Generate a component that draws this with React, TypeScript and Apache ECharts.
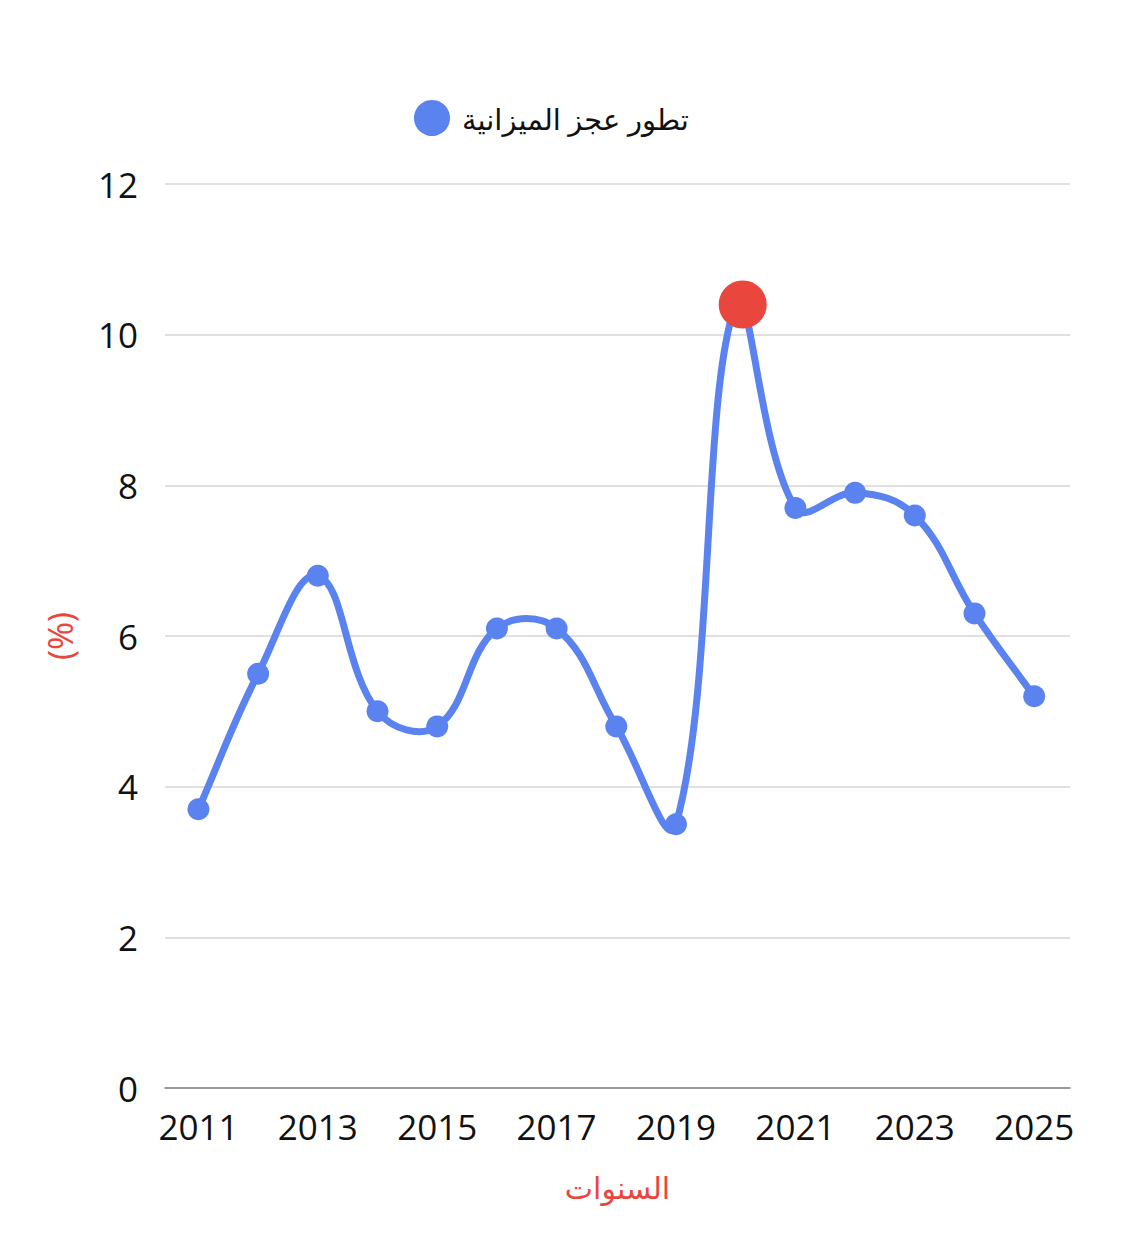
import React, { useEffect, useRef } from "react";
import * as echarts from "echarts";

const years = [2011, 2012, 2013, 2014, 2015, 2016, 2017, 2018, 2019, 2020, 2021, 2022, 2023, 2024, 2025];
const deficit = [3.7, 5.5, 6.8, 5.0, 4.8, 6.1, 6.1, 4.8, 3.5, 10.4, 7.7, 7.9, 7.6, 6.3, 5.2];
const yearLabels = [2011, 2013, 2015, 2017, 2019, 2021, 2023, 2025];
const seriesName = "تطور عجز الميزانية";
const xName = "السنوات";
const yName = "(%)";

const BLUE = "#5a83f0";
const RED = "#e9463d";
const FONT = "'Open Sans', 'Noto Sans', 'DejaVu Sans', sans-serif";
const TENSION = 0.4;

function splinePath(pts: number[][]): string {
  const n = pts.length;
  const cps: { prev: number[]; next: number[] }[] = [];
  for (let i = 0; i < n; i++) {
    const cur = pts[i];
    const prev = pts[Math.max(0, i - 1)];
    const next = pts[Math.min(n - 1, i + 1)];
    const d01 = Math.hypot(cur[0] - prev[0], cur[1] - prev[1]);
    const d12 = Math.hypot(next[0] - cur[0], next[1] - cur[1]);
    let s01 = d01 / (d01 + d12);
    let s12 = d12 / (d01 + d12);
    if (!isFinite(s01)) s01 = 0;
    if (!isFinite(s12)) s12 = 0;
    const fa = TENSION * s01;
    const fb = TENSION * s12;
    cps.push({
      prev: [cur[0] - fa * (next[0] - prev[0]), cur[1] - fa * (next[1] - prev[1])],
      next: [cur[0] + fb * (next[0] - prev[0]), cur[1] + fb * (next[1] - prev[1])],
    });
  }
  let d = `M${pts[0][0]},${pts[0][1]}`;
  for (let i = 1; i < n; i++) {
    const a = cps[i - 1].next;
    const b = cps[i].prev;
    d += ` C${a[0]},${a[1]} ${b[0]},${b[1]} ${pts[i][0]},${pts[i][1]}`;
  }
  return d;
}

export default function App() {
  const ref = useRef<HTMLDivElement>(null);
  useEffect(() => {
    if (!ref.current) return;
    const chart = echarts.init(ref.current, undefined, { renderer: "svg" });
    const pairs = years.map((y, i) => [y, deficit[i]]);
    chart.setOption({
      animation: false,
      backgroundColor: "#ffffff",
      textStyle: { fontFamily: FONT },
      legend: {
        left: 409,
        top: 95,
        icon: "circle",
        itemWidth: 36,
        itemHeight: 36,
        itemGap: 10,
        textStyle: { fontSize: 29, color: "#111", fontFamily: FONT, padding: [0, 0, 0, 7] },
        data: [seriesName],
      },
      grid: { left: 165, right: 78, top: 184, bottom: 154, containLabel: false },
      xAxis: {
        type: "value",
        min: 2010.44,
        max: 2025.6,
        name: xName,
        nameLocation: "middle",
        nameGap: 84,
        nameTextStyle: { color: RED, fontSize: 30, fontFamily: FONT },
        axisLine: { show: true, lineStyle: { color: "#808080", width: 1.5 } },
        axisTick: { show: false },
        splitLine: { show: false },
        axisLabel: {
          customValues: yearLabels,
          formatter: (v: number) => String(v),
          fontSize: 35,
          color: "#111",
          margin: 21,
          fontFamily: FONT,
        },
      },
      yAxis: {
        type: "value",
        min: 0,
        max: 12,
        interval: 2,
        name: yName,
        nameLocation: "middle",
        nameGap: 88,
        nameTextStyle: { color: RED, fontSize: 34, fontFamily: FONT },
        axisLine: { show: false },
        axisTick: { show: false },
        splitLine: { show: true, lineStyle: { color: "#d6d6d6", width: 1.5 } },
        axisLabel: { fontSize: 35, color: "#111", margin: 27, fontFamily: FONT },
      },
      series: [
        {
          name: seriesName,
          type: "custom",
          z: 1,
          silent: true,
          itemStyle: { color: BLUE },
          data: pairs,
          encode: { x: 0, y: 1 },
          renderItem: (params: any, api: any) => {
            if (params.dataIndex !== 0) return null;
            const pts = pairs.map((p) => api.coord(p));
            return {
              type: "path",
              shape: { pathData: splinePath(pts) },
              style: { stroke: BLUE, lineWidth: 7, fill: "none", lineCap: "round", lineJoin: "round" },
            };
          },
        },
        {
          name: seriesName,
          type: "line",
          z: 2,
          data: pairs,
          symbol: "circle",
          symbolSize: 22,
          showSymbol: true,
          lineStyle: { color: BLUE, width: 0, opacity: 0 },
          itemStyle: { color: BLUE },
          markPoint: {
            symbol: "circle",
            symbolSize: 48,
            symbolOffset: [7, 0],
            itemStyle: { color: RED },
            label: { show: false },
            data: [{ type: "max" }],
          },
        },
      ],
    });
    return () => chart.dispose();
  }, []);
  return (
    <div
      ref={ref}
      style={{ position: "fixed", left: 0, top: 0, width: 1148, height: 1242, background: "#fff" }}
    />
  );
}
